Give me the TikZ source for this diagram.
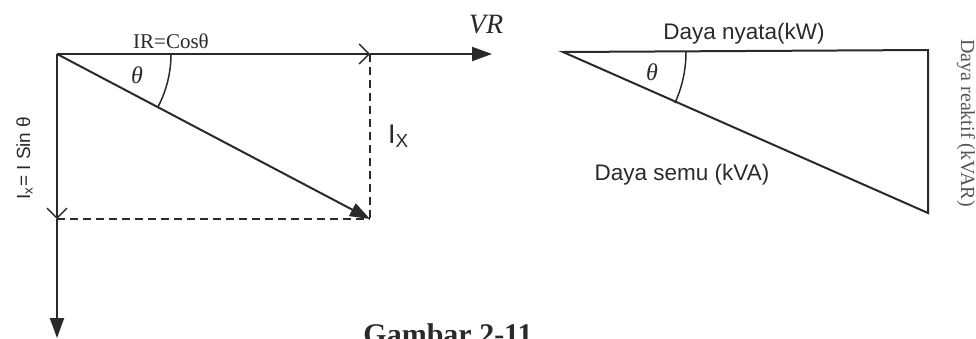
\documentclass[tikz,border=0pt]{standalone}
\usepackage{fontspec}
\setmainfont{Liberation Serif}
\newfontfamily\arialf{Liberation Sans}
\usetikzlibrary{arrows.meta}
\definecolor{ink}{HTML}{2A2A2A}
\tikzset{
  ln/.style={draw=ink, line width=2pt},
  dashln/.style={draw=ink, line width=2pt, dash pattern=on 8pt off 5pt},
  thinln/.style={draw=ink, line width=1.5pt},
  filledtip/.style={-{Triangle[length=20pt,width=14pt]}},
  opentip/.style={-{Straight Barb[length=10pt,width=20pt,line width=1.4pt]}},
  lbl/.style={text=ink, inner sep=0pt}
}
\begin{document}
\begin{tikzpicture}[x=1pt,y=-1pt]
\useasboundingbox (0,0) rectangle (976,338);
% left phasor diagram
\coordinate (O) at (57,54);
\coordinate (A) at (370,54);
\coordinate (VR) at (492,54);
\coordinate (B) at (370,219);
\coordinate (C) at (57,219);
\coordinate (D) at (57,338);
\draw[ln,opentip] (O) -- (A);
\draw[ln,filledtip] (A) -- (VR);
\draw[ln,filledtip] (O) -- (B);
\draw[dashln] (A) -- (B);
\draw[dashln] (C) -- (B);
\draw[ln,opentip] (O) -- (C);
\draw[ln,filledtip] (C) -- (D);
\draw[thinln] ([shift={(0:114)}]O) arc[start angle=0, end angle=27.5, radius=114];
\node[lbl, font=\fontsize{21}{24}\selectfont, anchor=base] (irl) at (171,48) {IR=Cosθ};
\node[lbl, font=\fontsize{28}{30}\selectfont\itshape, anchor=base] (vrl) at (486,33) {VR};
\node[lbl, font=\fontsize{24}{26}\selectfont\itshape, anchor=base] (th1) at (137,83) {θ};
\node[lbl, font=\arialf\fontsize{27}{30}\selectfont, anchor=base west] (ixl) at (388,143) {I\textsubscript{X}};
\node[lbl, font=\arialf\fontsize{19}{20}\selectfont, rotate=90, anchor=base] (isin) at (30,158) {I\textsubscript{x}= I Sin θ};
% right power triangle
\coordinate (P) at (563,52);
\coordinate (Q) at (928,50);
\coordinate (R) at (928,213);
\draw[ln, line join=miter] (P) -- (Q) -- (R) -- cycle;
\draw[thinln] ([shift={(0:123)}]P) arc[start angle=0, end angle=24.5, radius=123];
\node[lbl, font=\fontsize{24}{26}\selectfont\itshape, anchor=base] (th2) at (652,80) {θ};
\node[lbl, font=\arialf\fontsize{22.5}{24}\selectfont, anchor=base] (nyata) at (744,39) {Daya nyata(kW)};
\node[lbl, font=\arialf\fontsize{22.5}{24}\selectfont, anchor=base] (semu) at (682,180) {Daya semu (kVA)};
\node[lbl, font=\fontsize{20}{22}\selectfont, rotate=-90, anchor=base, text=ink!80] (reak) at (961,123) {Daya reaktif (kVAR)};
% caption
\node[lbl, font=\bfseries\fontsize{30}{32}\selectfont, anchor=base] (cap) at (448,344) {Gambar 2-11};
\end{tikzpicture}
\end{document}
